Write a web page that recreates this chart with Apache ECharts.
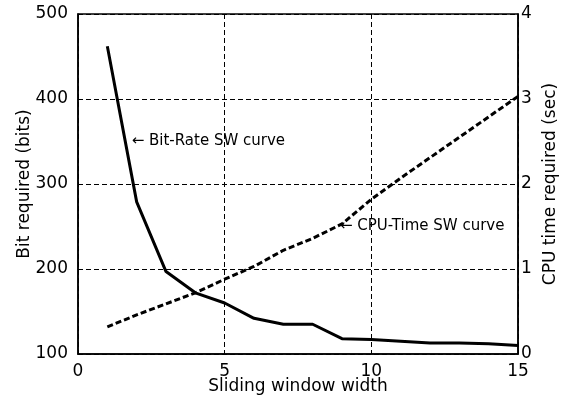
<!DOCTYPE html>
<html>
<head>
<meta charset="utf-8">
<script src="https://cdn.jsdelivr.net/npm/echarts@6/dist/echarts.min.js"></script>
<style>html,body{margin:0;padding:0;background:#fff;}#c{width:566px;height:400px;}</style>
</head>
<body>
<div id="c"></div>
<script>
var windowWidth = [1, 2, 3, 4, 5, 6, 7, 8, 9, 10, 11, 12, 13, 14, 15];
var bitsRequired = [462, 279, 197, 172, 160, 142, 135, 135, 118, 117, 115, 113, 113, 112, 110];
var cpuTime = [0.32, 0.46, 0.59, 0.72, 0.88, 1.03, 1.22, 1.36, 1.53, 1.82, 2.07, 2.31, 2.55, 2.79, 3.03];
var bitLabelAt = [1.83, 350];
var cpuLabelAt = [8.93, 1.51];

var FONT = 'DejaVu Sans';
var chart = echarts.init(document.getElementById('c'), null, {renderer: 'canvas'});
var gridLine = {show: true, lineStyle: {color: '#000', width: 1, type: [5, 3]}};
chart.setOption({
  animation: false,
  backgroundColor: '#fff',
  grid: {left: 78, right: 48, top: 14, bottom: 46, containLabel: false, outerBoundsMode: 'none',
         show: true, borderColor: '#000', borderWidth: 1.5, backgroundColor: 'transparent'},
  xAxis: {
    type: 'value', min: 0, max: 15, interval: 5,
    name: 'Sliding window width', nameLocation: 'middle', nameGap: 24, nameMoveOverlap: false,
    nameTextStyle: {color: '#000', fontSize: 17, fontFamily: FONT},
    axisLine: {show: true, lineStyle: {color: '#000', width: 1.5}},
    axisTick: {show: false},
    axisLabel: {color: '#000', fontSize: 17, fontFamily: FONT, margin: 9},
    splitLine: gridLine
  },
  yAxis: [{
    type: 'value', min: 100, max: 500, interval: 100, position: 'left',
    name: 'Bit required (bits)', nameLocation: 'middle', nameGap: 45, nameRotate: 90, nameMoveOverlap: false,
    nameTextStyle: {color: '#000', fontSize: 17, fontFamily: FONT},
    axisLine: {show: true, lineStyle: {color: '#000', width: 1.5}},
    axisTick: {show: false},
    axisLabel: {color: '#000', fontSize: 17, fontFamily: FONT, margin: 10},
    splitLine: gridLine
  }, {
    type: 'value', min: 0, max: 4, interval: 1, position: 'right',
    name: 'CPU time required (sec)', nameLocation: 'middle', nameGap: 24, nameRotate: 90, nameMoveOverlap: false,
    nameTextStyle: {color: '#000', fontSize: 17, fontFamily: FONT},
    axisLine: {show: true, lineStyle: {color: '#000', width: 1.5}},
    axisTick: {show: false},
    axisLabel: {color: '#000', fontSize: 17, fontFamily: FONT, margin: 3},
    splitLine: {show: false}
  }],
  series: [{
    name: 'Bit-Rate SW curve', type: 'line', yAxisIndex: 0,
    data: windowWidth.map(function (x, i) { return [x, bitsRequired[i]]; }),
    showSymbol: false, symbol: 'none',
    lineStyle: {color: '#000', width: 3, type: 'solid'},
    markPoint: {
      symbol: 'circle', symbolSize: 0, silent: true,
      label: {show: true, position: 'right', distance: 0, color: '#000', fontSize: 15, fontFamily: FONT, formatter: '\u2190 Bit-Rate SW curve'},
      data: [{coord: bitLabelAt}]
    }
  }, {
    name: 'CPU-Time SW curve', type: 'line', yAxisIndex: 1,
    data: windowWidth.map(function (x, i) { return [x, cpuTime[i]]; }),
    showSymbol: false, symbol: 'none',
    lineStyle: {color: '#000', width: 3, type: [6, 3]},
    markPoint: {
      symbol: 'circle', symbolSize: 0, silent: true,
      label: {show: true, position: 'right', distance: 0, color: '#000', fontSize: 15, fontFamily: FONT, formatter: '\u2190 CPU-Time SW curve'},
      data: [{coord: cpuLabelAt}]
    }
  }]
});
</script>
</body>
</html>
